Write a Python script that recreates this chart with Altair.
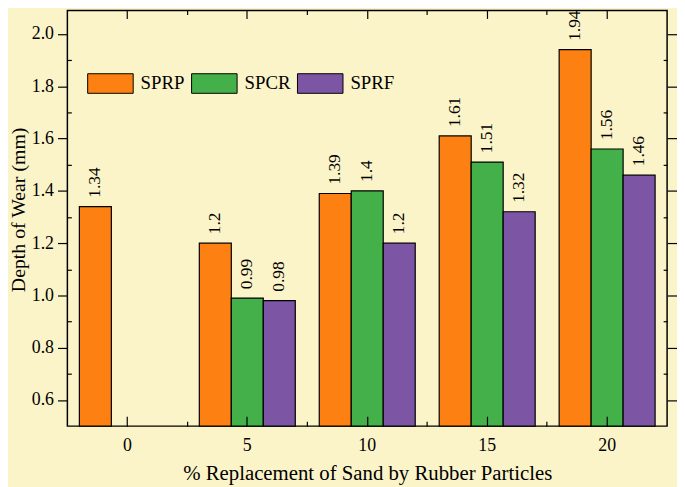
import altair as alt
import pandas as pd

# ---- data ----
pct = ["0", "5", "10", "15", "20"]
series = ["SPRP", "SPCR", "SPRF"]
sprp = [1.34, 1.2, 1.39, 1.61, 1.94]
spcr = [None, 0.99, 1.4, 1.51, 1.56]
sprf = [None, 0.98, 1.2, 1.32, 1.46]
colors = ["#fd8112", "#44b04a", "#7d55a5"]
y_major = [0.6, 0.8, 1.0, 1.2, 1.4, 1.6, 1.8, 2.0]
y_minor = [0.7, 0.9, 1.1, 1.3, 1.5, 1.7, 1.9]
x_minor = ["0", "5", "10", "15"]

rows = []
for i, p in enumerate(pct):
    for s, vals in zip(series, [sprp, spcr, sprf]):
        if vals[i] is not None:
            rows.append({"pct": p, "series": s, "value": vals[i]})
df = pd.DataFrame(rows)

FONT = "Liberation Serif"
BG = "#fbf4c9"
W, H = 606, 420

xscale = alt.Scale(domain=pct, paddingInner=0.2, paddingOuter=0.1)
offscale = alt.Scale(domain=series, paddingInner=0, paddingOuter=0)
yscale = alt.Scale(domain=[0.5, 2.09], zero=False, nice=False)


def enc(xaxis, yaxis):
    return dict(
        x=alt.X("pct:N", scale=xscale, sort=pct, axis=xaxis),
        xOffset=alt.XOffset("series:N", scale=offscale, sort=series),
        y=alt.Y("value:Q", scale=yscale, axis=yaxis),
    )


tick_only = dict(domain=False, labels=False, title=None, ticks=True,
                 tickColor="black", tickWidth=1.2, grid=False, zindex=2)

x_main = alt.Axis(title="% Replacement of Sand by Rubber Particles", ticks=False,
                  tickSize=0, domain=False, labelAngle=0, labelFont=FONT,
                  labelFontSize=18, labelColor="black", labelPadding=11,
                  titleFont=FONT, titleFontSize=21, titleFontWeight="normal",
                  titleColor="black", titlePadding=8, grid=False)
x_major_in = alt.Axis(orient="bottom", offset=-10, tickSize=10, **tick_only)
x_minor_in = alt.Axis(orient="bottom", offset=-5, tickSize=5, bandPosition=1.125,
                      values=x_minor, **tick_only)
x_top_major = alt.Axis(orient="top", offset=-8, tickSize=8, **tick_only)
x_top_minor = alt.Axis(orient="top", offset=-4, tickSize=4, bandPosition=1.125,
                       values=x_minor, **tick_only)

y_main = alt.Axis(orient="left", values=y_major, format=".1f", tickSize=10,
                  tickColor="black", tickWidth=1.2, domain=False, labelFont=FONT,
                  labelFontSize=18, labelColor="black", labelPadding=4,
                  title="Depth of Wear (mm)", titleFont=FONT, titleFontSize=20,
                  titleFontWeight="normal", titleColor="black", titlePadding=3,
                  titleY=201, grid=False, zindex=2)
y_left_minor = alt.Axis(orient="left", offset=-4, tickSize=4, values=y_minor, **tick_only)
y_right_major = alt.Axis(orient="right", tickSize=10, values=y_major, **tick_only)
y_right_minor = alt.Axis(orient="right", offset=-4, tickSize=4, values=y_minor, **tick_only)

base = alt.Chart(df)

legend = alt.Legend(title=None, orient="none", legendX=20, legendY=50,
                    direction="horizontal", symbolType="M-1,-0.43H1V0.43H-1Z",
                    symbolSize=2116, symbolStrokeColor="black", symbolStrokeWidth=1,
                    symbolOpacity=1, labelFont=FONT, labelFontSize=19,
                    labelColor="black", labelOffset=7, columnPadding=4,
                    padding=0, offset=0)

bars = base.mark_bar(stroke="black", strokeWidth=1.2).encode(
    **enc(x_main, y_main),
    y2=alt.datum(0.5),
    color=alt.Color("series:N", scale=alt.Scale(domain=series, range=colors),
                    legend=legend),
)


def ghost(xa, ya):
    return base.mark_bar(opacity=0).encode(**enc(xa, ya), y2=alt.datum(0.5))


labels = base.mark_text(angle=270, align="left", baseline="middle", dx=9,
                        font=FONT, fontSize=17.5, color="black").encode(
    **enc(x_top_minor, None),
    text=alt.Text("value:Q", format="~g"),
)

chart = alt.layer(
    bars,
    ghost(x_major_in, y_left_minor),
    ghost(x_minor_in, y_right_major),
    ghost(x_top_major, y_right_minor),
    labels,
).resolve_axis(x="independent", y="independent").properties(
    width=W, height=H,
    padding={"left": 60, "top": 0, "right": 10, "bottom": 59},
    autosize=alt.AutoSizeParams(type="none"),
).configure(background=BG).configure_view(fill=BG, stroke="black", strokeWidth=1.5)

chart.save("out.html", embed_options={"renderer": "svg", "actions": False})
